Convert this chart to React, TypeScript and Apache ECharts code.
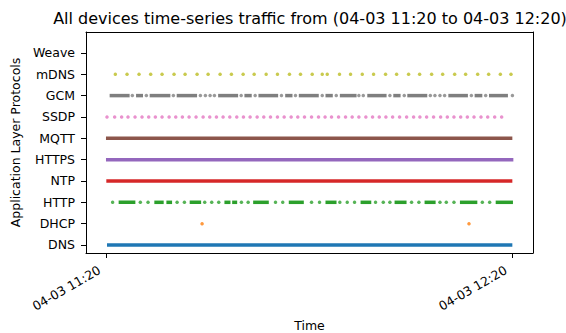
import React, { useEffect, useRef } from "react";
import * as echarts from "echarts";

// Categories (bottom to top)
const protocols = ["DNS", "DHCP", "HTTP", "NTP", "HTTPS", "MQTT", "SSDP", "GCM", "mDNS", "Weave"];
const colors = ["#1f77b4", "#ff7f0e", "#2ca02c", "#d62728", "#9467bd", "#8c564b", "#e377c2", "#7f7f7f", "#bcbd22", "#17becf"];

// x values are minutes after 04-03 11:20
const xTickValues = [0, 60];
const xTickLabels = ["04-03 11:20", "04-03 12:20"];

// dense runs of packets: [start, end] in minutes
const dnsSpans = [[0.1, 59.95]];
const ntpSpans = [[0.0, 59.95]];
const httpsSpans = [[-0.05, 60.1]];
const mqttSpans = [[-0.05, 59.95]];
const httpSpans = [
  [1.82, 4.29], [7.09, 8.47], [8.87, 9.71], [12.31, 14.0], [17.44, 18.33], [18.58, 19.32],
  [21.68, 23.99], [26.94, 29.16], [32.36, 33.99], [37.54, 39.12], [42.56, 44.33],
  [46.99, 48.62], [52.21, 54.78], [57.49, 60.04],
];
const gcmSpans = [
  [0.49, 3.44], [4.39, 5.42], [6.4, 9.46], [10.39, 13.4], [16.51, 19.46], [20.39, 21.47],
  [22.46, 25.37], [26.41, 27.49], [28.42, 31.37], [32.36, 33.44], [34.48, 36.95],
  [38.53, 41.38], [42.37, 43.45], [44.44, 47.39], [50.5, 53.39], [54.38, 55.52], [56.5, 59.3],
];

// isolated packets: minutes
const dhcpDots = [14.14, 53.55];
const httpDots = [
  0.93, 5.02, 6.16, 10.45, 11.53, 14.53, 15.56, 16.6, 19.95, 20.94, 24.98, 26.05, 30.3,
  31.48, 34.48, 35.57, 36.65, 39.75, 40.89, 41.87, 45.07, 46.15, 49.26, 50.2, 51.33, 55.52, 56.6,
];
const gcmDots = [
  3.84, 5.91, 9.9, 13.89, 14.63, 15.32, 15.96, 19.91, 21.98, 25.86, 27.93, 31.88, 33.95,
  37.29, 37.94, 41.87, 43.99, 47.84, 48.52, 49.26, 49.95, 53.9, 56.01, 59.96,
];
const ssdpDots = [
  0.1, 1.23, 2.26, 3.2, 4.24, 5.27, 6.26, 7.24, 8.23, 9.27, 10.25, 11.23, 12.22, 13.25, 14.29,
  15.27, 16.26, 17.24, 18.23, 19.26, 20.25, 21.23, 22.27, 23.25, 24.24, 25.27, 26.26, 27.29,
  28.27, 29.26, 30.3, 31.33, 32.3, 33.25, 34.29, 35.32, 36.3, 37.29, 38.32, 39.31, 40.3,
  41.28, 42.27, 43.3, 44.34, 45.37, 46.3, 47.29, 48.32, 49.36, 50.35, 51.33, 52.32, 53.31,
  54.29, 55.32, 56.31, 57.34, 58.37,
];
const mdnsDots = [
  1.33, 3.06, 4.83, 6.55, 8.23, 10.0, 11.63, 13.4, 15.03, 16.8, 18.47, 20.2, 21.83, 23.6,
  25.27, 27.04, 28.67, 30.4, 31.88, 32.62, 34.43, 36.06, 37.79, 39.46, 41.23, 42.86, 44.63,
  46.26, 48.03, 49.66, 51.43, 53.05, 54.83, 56.45, 58.18, 59.75,
];
const weaveDots: number[] = [];

const FONT = "DejaVu Sans";
const LABEL_SIZE = 12.5;
const BAR_H = 3.5;
const DOT = 3.5;

function spanSeries(name: string, row: number, spans: number[][]) {
  return {
    name,
    type: "custom",
    xAxisIndex: 0,
    yAxisIndex: 0,
    encode: { x: [0, 1], y: 2 },
    data: spans.map((s) => [s[0], s[1], row]),
    renderItem: (params: any, api: any) => {
      const a = api.coord([api.value(0), api.value(2)]);
      const b = api.coord([api.value(1), api.value(2)]);
      return {
        type: "rect",
        shape: { x: a[0], y: a[1] - BAR_H / 2, width: b[0] - a[0], height: BAR_H },
        style: { fill: colors[row] },
      };
    },
  };
}

function dotSeries(name: string, row: number, dots: number[]) {
  return {
    name,
    type: "scatter",
    xAxisIndex: 0,
    yAxisIndex: 0,
    symbol: "circle",
    symbolSize: DOT,
    itemStyle: { color: colors[row] },
    data: dots.map((t) => [t, row]),
  };
}

export default function App() {
  const ref = useRef<HTMLDivElement>(null);
  useEffect(() => {
    if (!ref.current) return;
    const chart = echarts.init(ref.current, undefined, { renderer: "svg" });
    const yVals = protocols.map((_, i) => i);
    const axisLine = { show: true, onZero: false, lineStyle: { color: "#000", width: 1 } };
    chart.setOption({
      animation: false,
      backgroundColor: "#fff",
      textStyle: { fontFamily: FONT },
      title: {
        text: "All devices time-series traffic from (04-03 11:20 to 04-03 12:20)",
        left: 310,
        top: 10,
        padding: 0,
        textAlign: "center",
        textStyle: { fontFamily: FONT, fontSize: 16, fontWeight: "normal", color: "#000" },
      },
      grid: { left: 86, right: 33, top: 32, bottom: 80, containLabel: false, outerBoundsMode: "none" },
      xAxis: [
        {
          type: "value",
          min: -3,
          max: 63,
          name: "Time",
          nameLocation: "middle",
          nameGap: 66,
          nameTextStyle: { fontFamily: FONT, fontSize: LABEL_SIZE, color: "#000" },
          axisLine,
          axisTick: { show: true, customValues: xTickValues, length: 5, lineStyle: { color: "#000" } },
          axisLabel: {
            customValues: xTickValues,
            rotate: 30,
            margin: 12,
            padding: [0, 8, 0, 0],
            fontFamily: FONT,
            fontSize: LABEL_SIZE,
            color: "#000",
            formatter: (v: number) => xTickLabels[xTickValues.indexOf(v)] ?? "",
          },
          splitLine: { show: false },
        },
        {
          type: "value",
          position: "top",
          min: -3,
          max: 63,
          axisLine,
          axisTick: { show: false },
          axisLabel: { show: false },
          splitLine: { show: false },
        },
      ],
      yAxis: [
        {
          type: "value",
          min: -0.375,
          max: 9.98,
          name: "Application Layer Protocols",
          nameLocation: "middle",
          nameRotate: 90,
          nameGap: 62,
          nameTextStyle: { fontFamily: FONT, fontSize: LABEL_SIZE, color: "#000" },
          axisLine,
          axisTick: { show: true, customValues: yVals, length: 5, lineStyle: { color: "#000" } },
          axisLabel: {
            customValues: yVals,
            margin: 11,
            fontFamily: FONT,
            fontSize: LABEL_SIZE,
            color: "#000",
            formatter: (v: number) => protocols[Math.round(v)] ?? "",
          },
          splitLine: { show: false },
        },
        {
          type: "value",
          position: "right",
          min: -0.375,
          max: 9.98,
          axisLine,
          axisTick: { show: false },
          axisLabel: { show: false },
          splitLine: { show: false },
        },
      ],
      series: [
        spanSeries("DNS", 0, dnsSpans),
        dotSeries("DHCP", 1, dhcpDots),
        spanSeries("HTTP", 2, httpSpans),
        dotSeries("HTTP", 2, httpDots),
        spanSeries("NTP", 3, ntpSpans),
        spanSeries("HTTPS", 4, httpsSpans),
        spanSeries("MQTT", 5, mqttSpans),
        dotSeries("SSDP", 6, ssdpDots),
        spanSeries("GCM", 7, gcmSpans),
        dotSeries("GCM", 7, gcmDots),
        dotSeries("mDNS", 8, mdnsDots),
        dotSeries("Weave", 9, weaveDots),
      ],
    });
    return () => chart.dispose();
  }, []);
  return (
    <div
      ref={ref}
      style={{ position: "fixed", left: 0, top: 0, width: 566, height: 333, background: "#fff" }}
    />
  );
}
